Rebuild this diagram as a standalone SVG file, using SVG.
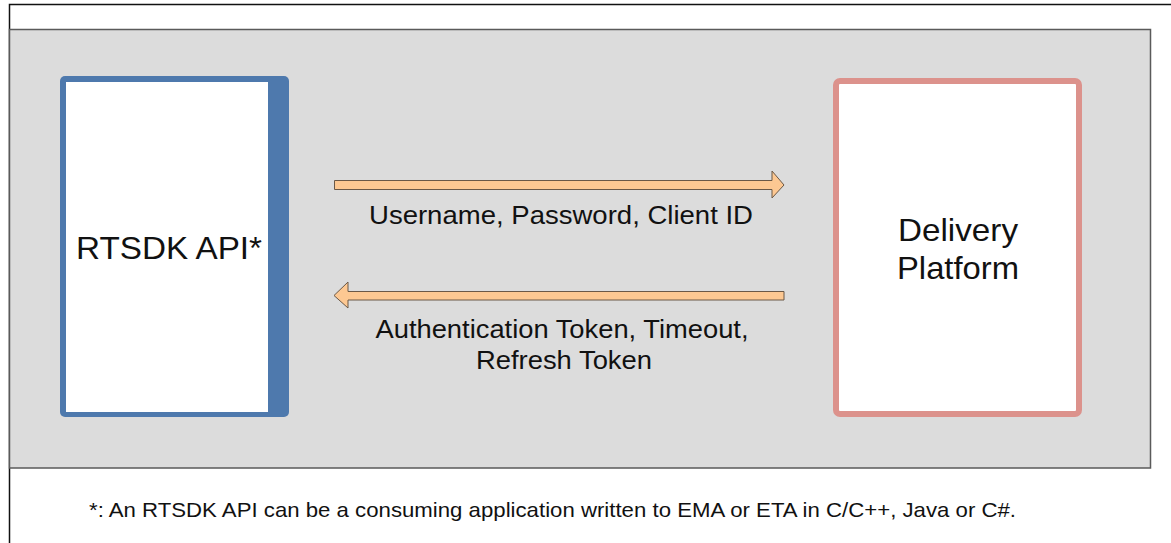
<svg xmlns="http://www.w3.org/2000/svg" width="1171" height="543" viewBox="0 0 1171 543">
<style>
.lbl{font-family:"Liberation Sans",Arial,sans-serif;fill:#111;}
.arrow{fill:#fdc892;stroke:#6b5846;stroke-width:1;}
</style>
<rect x="0" y="0" width="1171" height="543" fill="#fff"/>
<path d="M9.5,543 V4.5 H1171" fill="none" stroke="#111" stroke-width="1.5"/>
<g id="panel">
<rect x="9.5" y="29.5" width="1141" height="438.5" fill="#dcdcdc" stroke="#5a5a5a" stroke-width="1.5"/>
</g>
<g id="rtsdk">
<rect x="60" y="76" width="229" height="341" rx="5" fill="#4e79ad"/>
<rect x="66" y="82" width="202" height="330" fill="#fff"/>
<text class="lbl" x="169" y="259" font-size="32" text-anchor="middle" textLength="186" lengthAdjust="spacingAndGlyphs">RTSDK API*</text>
</g>
<g id="platform">
<rect x="836" y="81" width="243" height="333" rx="4" fill="#fff" stroke="#dc928c" stroke-width="6"/>
<text class="lbl" x="958" y="241" font-size="32" text-anchor="middle" textLength="120" lengthAdjust="spacingAndGlyphs">Delivery</text>
<text class="lbl" x="958" y="279" font-size="32" text-anchor="middle" textLength="122" lengthAdjust="spacingAndGlyphs">Platform</text>
</g>
<g id="connectors">
<path class="arrow" d="M334.5,180.5 H772 V171 L784,185 L772,198 V189.5 H334.5 Z"/>
<path class="arrow" d="M784,291.5 H348 V282 L334,295.5 L348,308 V300 H784 Z"/>
<text class="lbl" x="561" y="224" font-size="26" text-anchor="middle" textLength="384" lengthAdjust="spacingAndGlyphs">Username, Password, Client ID</text>
<text class="lbl" x="562" y="338" font-size="26" text-anchor="middle" textLength="373" lengthAdjust="spacingAndGlyphs">Authentication Token, Timeout,</text>
<text class="lbl" x="564" y="369" font-size="26" text-anchor="middle" textLength="176" lengthAdjust="spacingAndGlyphs">Refresh Token</text>
</g>
<text class="lbl" x="89" y="517" font-size="21" textLength="927" lengthAdjust="spacingAndGlyphs">*: An RTSDK API can be a consuming application written to EMA or ETA in C/C++, Java or C#.</text>
</svg>
